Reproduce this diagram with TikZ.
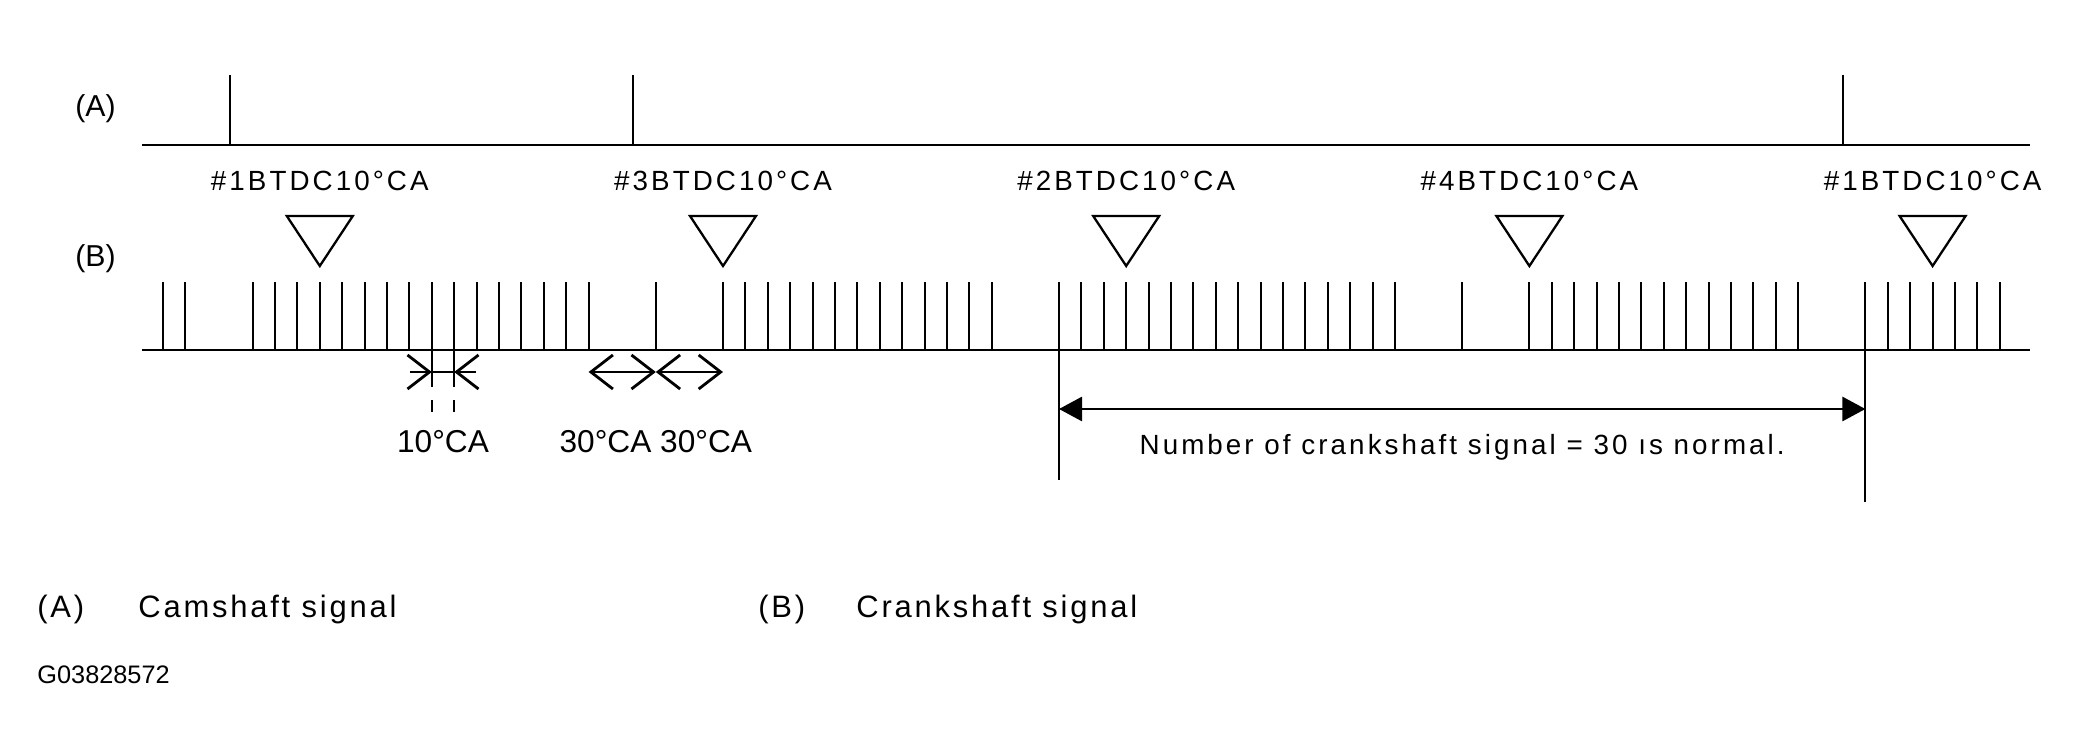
\documentclass[tikz,border=0pt]{standalone}
\usepackage{fontspec}
\setmainfont{Liberation Sans}
\newfontfamily\spacedfont[LetterSpace=11]{Liberation Sans}
\newfontfamily\legendfont[LetterSpace=9]{Liberation Sans}
\usetikzlibrary{arrows.meta,positioning,calc}
\newcommand{\tx}[1]{163+22.4*#1}

\begin{document}
\begin{tikzpicture}[x=0.01cm,y=-0.01cm,line width=0.8pt,
  tdc node/.style={font=\spacedfont\fontsize{7.9}{9}\selectfont,inner sep=0pt,anchor=base},
  dim node/.style={font=\fontsize{9}{11}\selectfont,inner sep=0pt,anchor=base},
  side node/.style={font=\fontsize{8.6}{10}\selectfont,inner sep=0pt,anchor=base west},
  key node/.style={font=\legendfont\fontsize{8.8}{10}\selectfont,inner sep=0pt,anchor=base west},
  tooth/.style={line width=0.6pt},
  marker/.style={line width=0.65pt,line join=miter},
  barb tip/.style={-{Straight Barb[length=2.2mm,width=3.4mm]}},
  both barb/.style={{Straight Barb[length=2.2mm,width=3.4mm]}-{Straight Barb[length=2.2mm,width=3.4mm]}},
  solid tip/.style={{Triangle[length=2.3mm,width=2.4mm]}-{Triangle[length=2.3mm,width=2.4mm]}}]
\useasboundingbox (0,0) rectangle (2081,752);

% camshaft signal
\node[side node] (sigA) at (74,117) {(A)};
\coordinate (camL) at (142,145);
\coordinate (camR) at (2030,145);
\draw (camL) -- (camR);
\foreach \k/\nm in {3/camP,21/camQ,75/camR}{
  \coordinate (\nm) at ({\tx{\k}},145);
  \draw[tooth] (\nm) -- ++(0,-70);
}

% crankshaft signal
\node[side node] (sigB) at (74,267) {(B)};
\coordinate (crkL) at (142,350);
\coordinate (crkR) at (2030,350);
\draw (crkL) -- (crkR);
\foreach \k in {0,1,4,5,...,19,22,25,26,...,37,40,41,...,55,58,61,62,...,73,76,77,...,82}
  \draw[tooth] ({\tx{\k}},350) -- ++(0,-68);

% BTDC marks
\foreach \k/\cyl/\nm in {7/1/tdcA,25/3/tdcB,43/2/tdcC,61/4/tdcD,79/1/tdcE}{
  \node[tdc node] (\nm) at ({\tx{\k}},191) {\#\cyl BTDC10°CA};
  \draw[marker] ({\tx{\k}-33},216) -- ({\tx{\k}+33},216) -- ({\tx{\k}},266) -- cycle;
}

% 10CA
\coordinate (d10a) at ({\tx{12}},350);
\coordinate (d10b) at ({\tx{13}},350);
\draw[tooth,dash pattern=on 0.37cm off 0.13cm] (d10a) -- ++(0,62);
\draw[tooth,dash pattern=on 0.37cm off 0.13cm] (d10b) -- ++(0,62);
\draw[barb tip] ($(d10a)+(-22,22)$) -- ($(d10a)+(0,22)$);
\draw ($(d10a)+(0,22)$) -- ($(d10b)+(0,22)$);
\draw[barb tip] ($(d10b)+(22,22)$) -- ($(d10b)+(0,22)$);
\node[dim node] (d10) at ($(d10a)!0.5!(d10b)+(0,103)$) {10°CA};

% 30CA 30CA
\coordinate (d30a) at ({\tx{19}},372);
\coordinate (d30b) at ({\tx{22}},372);
\coordinate (d30c) at ({\tx{25}},372);
\draw[both barb] (d30a) -- (d30b);
\draw[both barb] (d30b) -- (d30c);
\node[dim node] (d30) at ($(d30b)+(0,81)$) {30°CA\ 30°CA};

% one turn
\coordinate (rotL) at ({\tx{40}},350);
\coordinate (rotR) at ({\tx{76}},350);
\draw[tooth] (rotL) -- ++(0,130);
\draw[tooth] (rotR) -- ++(0,152);
\draw[solid tip] ($(rotL)+(0,59)$) -- ($(rotR)+(0,59)$);
\node[tdc node] (rot) at ($(rotL)!0.5!(rotR)+(0,105)$) {Number of crankshaft signal = 30 ıs normal.};

% key
\node[key node] (keyA) at (36,617) {(A)};
\node[key node] (keyAtxt) at (137,617) {Camshaft signal};
\node[key node] (keyB) at (757,617) {(B)};
\node[key node] (keyBtxt) at (855,617) {Crankshaft signal};
\node[font=\fontsize{7.2}{9}\selectfont,inner sep=0pt,anchor=base west] (figid) at (36,683) {G03828572};
\end{tikzpicture}
\end{document}
